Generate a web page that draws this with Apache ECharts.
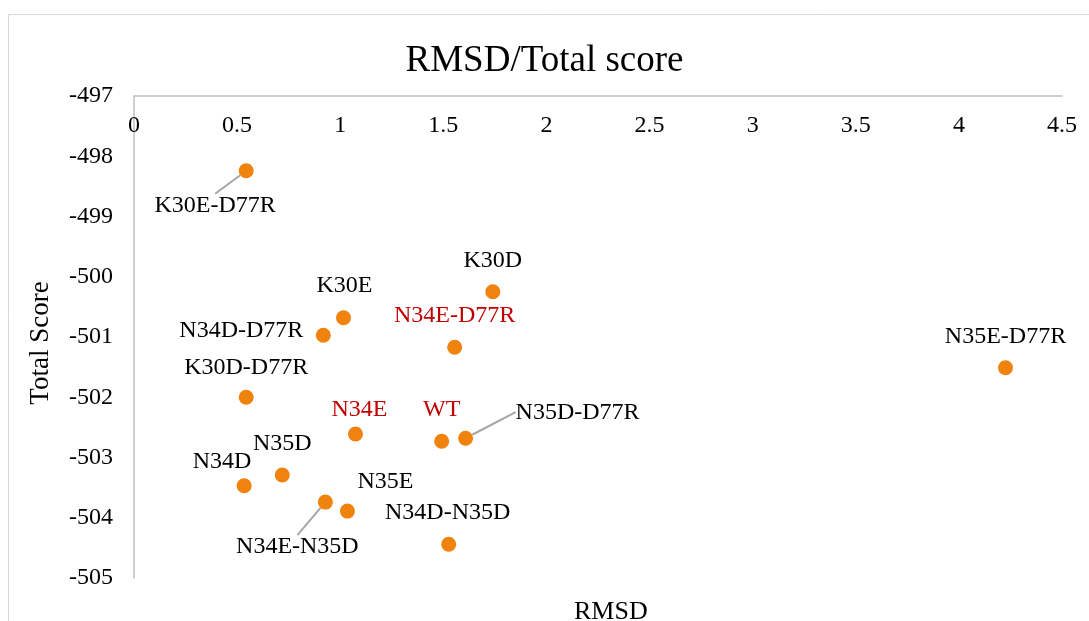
<!DOCTYPE html>
<html>
<head>
<meta charset="utf-8">
<script src="https://cdn.jsdelivr.net/npm/echarts@6/dist/echarts.min.js"></script>
<style>html,body{margin:0;padding:0;background:#fff;}#c{width:1089px;height:621px;}</style>
</head>
<body>
<div id="c"></div>
<script>
var names = ['K30E-D77R','K30D','K30E','N34D-D77R','N34E-D77R','N35E-D77R','K30D-D77R','N34E','WT','N35D-D77R','N35D','N34D','N34E-N35D','N35E','N34D-N35D'];
var rmsd = [0.544, 1.740, 1.016, 0.918, 1.555, 4.226, 0.544, 1.074, 1.492, 1.608, 0.719, 0.534, 0.928, 1.035, 1.526];
var totalScore = [-498.24, -500.25, -500.68, -500.97, -501.17, -501.51, -502.00, -502.61, -502.73, -502.68, -503.29, -503.47, -503.74, -503.89, -504.44];
var xTicks = [0, 4.5, 0.5];
var yTicks = [-505, -497, 1];
var highlighted = ['N34E-D77R','N34E','WT'];

// label offsets (label centre relative to point, px)
var labelOffsets = {
  'K30E-D77R': [-31, 35], 'K30D': [0, -31], 'K30E': [1, -32], 'N34D-D77R': [-82, -4],
  'N34E-D77R': [0, -32], 'N35E-D77R': [0, -31], 'K30D-D77R': [0, -30], 'N34E': [4, -24],
  'WT': [0, -32], 'N35D-D77R': [112, -26], 'N35D': [0, -31], 'N34D': [-22, -24],
  'N34E-N35D': [-28, 45], 'N35E': [38, -29], 'N34D-N35D': [-1, -32]
};
var withLine = ['K30E-D77R', 'N35D-D77R', 'N34E-N35D'];

var font = '"Liberation Serif", "Times New Roman", serif';
var data = names.map(function (n, i) {
  var item = { value: [rmsd[i], totalScore[i], n], name: n };
  if (highlighted.indexOf(n) >= 0) item.label = { color: '#C00000' };
  if (withLine.indexOf(n) >= 0) item.labelLine = { show: true };
  return item;
});

var chart = echarts.init(document.getElementById('c'), null, { renderer: 'canvas' });
chart.setOption({
  backgroundColor: '#fff',
  animation: false,
  title: [
    { text: 'RMSD/Total score', left: 'center', top: 38, textStyle: { fontFamily: font, fontSize: 37, fontWeight: 'normal', color: '#000' } },
    { text: 'RMSD', left: 569, top: 594, textStyle: { fontFamily: font, fontSize: 26, fontWeight: 'normal', color: '#000' } }
  ],
  graphic: [{ type: 'rect', shape: { x: 8.5, y: 14.5, width: 1200, height: 800 }, style: { fill: null, stroke: '#D9D9D9', lineWidth: 1 }, silent: true }],
  grid: { left: 134, top: 96, right: 27, bottom: 43, containLabel: false },
  xAxis: {
    type: 'value', position: 'top', min: xTicks[0], max: xTicks[1], interval: xTicks[2],
    axisLine: { show: true, lineStyle: { color: '#BFBFBF', width: 1.5 } },
    axisTick: { show: false }, splitLine: { show: false },
    axisLabel: { inside: true, margin: 18, fontFamily: font, fontSize: 24, color: '#000' }
  },
  yAxis: {
    type: 'value', min: yTicks[0], max: yTicks[1], interval: yTicks[2],
    name: 'Total Score', nameLocation: 'middle', nameGap: 80, nameRotate: 90,
    nameTextStyle: { fontFamily: font, fontSize: 27, color: '#000', padding: [0, 12, 0, 0] },
    axisLine: { show: true, onZero: false, lineStyle: { color: '#BFBFBF', width: 1.5 } },
    axisTick: { show: false }, splitLine: { show: false },
    axisLabel: { margin: 21, fontFamily: font, fontSize: 24, color: '#000' }
  },
  series: [{
    type: 'scatter',
    symbolSize: 15,
    itemStyle: { color: '#F0820E', opacity: 1 },
    data: data,
    label: { show: true, position: 'inside', formatter: '{b}', fontFamily: font, fontSize: 24, color: '#000' },
    labelLine: { show: false, lineStyle: { color: '#A6A6A6', width: 2 } },
    labelLayout: function (p) {
      var o = labelOffsets[p.text] || [0, 0];
      return { dx: o[0], dy: o[1] };
    }
  }]
});
</script>
</body>
</html>
